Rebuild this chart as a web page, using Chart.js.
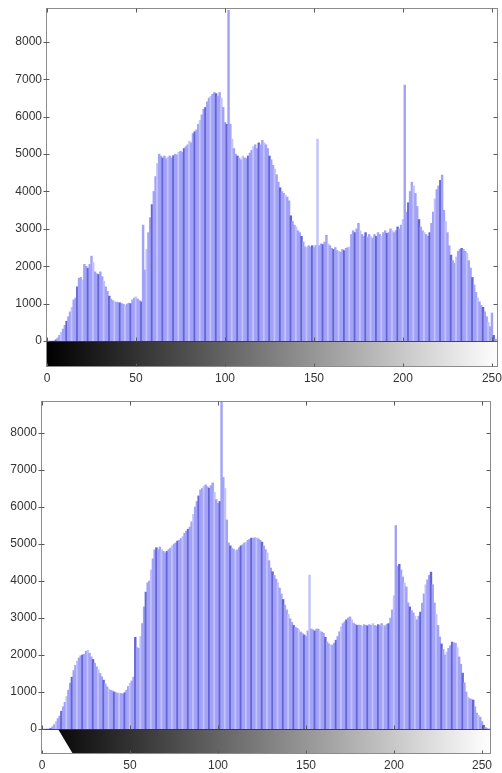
<!DOCTYPE html>
<html>
<head>
<meta charset="utf-8">
<title>Histogram before and after equalization</title>
<script src="https://cdn.jsdelivr.net/npm/chart.js@4.4.1/dist/chart.umd.min.js"></script>
<style>
  html, body { margin: 0; padding: 0; background: #ffffff; }
  #wrap { position: relative; width: 502px; height: 773px; overflow: hidden; }
  canvas { position: absolute; left: 0; }
  #histTop { top: 0; }
  #histBottom { top: 386px; }
</style>
</head>
<body>
<div id="wrap">
  <canvas id="histTop" width="502" height="386"></canvas>
  <canvas id="histBottom" width="502" height="387"></canvas>
</div>
<script>
// Gray levels 0..255
const grayLevels = [];
for (let i = 0; i < 256; i++) grayLevels.push(i);

// Tick labels
const xTickValues = [0, 50, 100, 150, 200, 250];
const yTickValues = [0, 1000, 2000, 3000, 4000, 5000, 6000, 7000, 8000];

// Pixel counts per gray level, original image
const originalCounts = [
  0, 0, 0, 0, 0, 30, 80, 150, 230, 320,
  420, 530, 650, 780, 900, 1100, 1150, 1450, 1680, 1700,
  1630, 2050, 2000, 1950, 2050, 2270, 2100, 1850, 1800, 1780,
  1850, 1720, 1600, 1450, 1330, 1200, 1120, 1080, 1050, 1040,
  1030, 1020, 1000, 980, 950, 990, 1010, 1000, 1100, 1150,
  1180, 1120, 1080, 1050, 3100, 1900, 2450, 2900, 3300, 3650,
  4000, 4400, 4750, 5000, 4950, 4900, 4950, 4880, 4920, 4950,
  4900, 4960, 5000, 4980, 5050, 5080, 5050, 5150, 5200, 5250,
  5350, 5300, 5550, 5600, 5650, 5800, 5900, 6050, 6200, 6250,
  6400, 6500, 6550, 6600, 6650, 6620, 6550, 6650, 6500, 6250,
  5850, 5800, 8850, 5800, 5400, 5150, 5000, 4950, 4900, 4850,
  4950, 4900, 4880, 4950, 5030, 5100, 5200, 5250, 5150, 5300,
  5250, 5370, 5300, 5250, 5150, 4950, 4850, 4700, 4600, 4450,
  4250, 4100, 4000, 3950, 3900, 3850, 3750, 3350, 3200, 3100,
  3050, 2950, 2900, 2800, 2650, 2520, 2500, 2550, 2520, 2550,
  2500, 2560, 5400, 2550, 2600, 2580, 2650, 2830, 2600, 2550,
  2480, 2450, 2500, 2420, 2400, 2380, 2450, 2420, 2480, 2500,
  2520, 2850, 2950, 2900, 3000, 3150, 2950, 2850, 2800, 2900,
  2780, 2850, 2800, 2750, 2850, 2800, 2900, 2850, 2800, 2900,
  2950, 2880, 2900, 3000, 2950, 2900, 2950, 3050, 3000, 3100,
  3250, 6850, 3450, 3700, 4000, 4250, 4150, 3950, 3600, 3250,
  3050, 2950, 2900, 2850, 2800, 2900, 3150, 3450, 3800, 4050,
  4150, 4300, 4440, 3500, 3200, 2900, 2550, 2300, 2150, 2080,
  2250, 2400, 2450, 2480, 2450, 2400, 2350, 2150, 1950, 1700,
  1500, 1300, 1150, 1050, 950, 900, 780, 650, 500, 380,
  750, 150, 50, 0, 0, 0
];

// Pixel counts per gray level, equalized image
const equalizedCounts = [
  0, 0, 0, 0, 0, 20, 60, 120, 200, 280,
  350, 480, 600, 720, 880, 1050, 1240, 1400, 1580, 1720,
  1830, 1920, 1980, 2000, 2020, 2100, 2130, 2050, 1950, 1880,
  1780, 1680, 1600, 1500, 1410, 1320, 1220, 1140, 1080, 1050,
  1030, 1000, 980, 970, 960, 960, 950, 980, 1050, 1150,
  1240, 1300, 1400, 2480, 2200, 2180, 2500, 2850, 3300, 3700,
  3950, 4000, 4300, 4600, 4840, 4900, 4850, 4920, 4850, 4800,
  4760, 4800, 4850, 4890, 4950, 5000, 5030, 5080, 5100, 5150,
  5200, 5290, 5350, 5400, 5460, 5600, 5800, 6000, 6150, 6300,
  6460, 6500, 6560, 6600, 6550, 6510, 6580, 6650, 6400, 6200,
  6100, 6150, 8850, 6800, 6500, 5650, 5030, 4950, 4880, 4850,
  4820, 4840, 4900, 4950, 4980, 5030, 5050, 5100, 5130, 5160,
  5150, 5170, 5160, 5140, 5100, 5050, 4950, 4850, 4760, 4550,
  4350, 4250, 4150, 4050, 3950, 3810, 3650, 3500, 3350, 3220,
  3100, 2980, 2880, 2800, 2750, 2720, 2680, 2620, 2580, 2540,
  2500, 2650, 4160, 2700, 2680, 2650, 2700, 2700, 2650, 2620,
  2590, 2480, 2350, 2300, 2270, 2270, 2320, 2400, 2500, 2630,
  2760, 2850, 2900, 2950, 3000, 3030, 2950, 2860, 2830, 2800,
  2810, 2800, 2780, 2820, 2800, 2790, 2820, 2800, 2850, 2800,
  2780, 2820, 2800, 2850, 2800, 2790, 2830, 2850, 3000, 3220,
  3600, 5500, 4400, 4450, 4300, 4110, 3950, 3840, 3410, 3300,
  3200, 3140, 3050, 2950, 3050, 3160, 3400, 3650, 3900, 4030,
  4150, 4240, 3900, 3410, 3100, 2800, 2490, 2300, 2150, 2000,
  2080, 2180, 2250, 2350, 2330, 2320, 2200, 1950, 1750, 1510,
  1250, 1000, 860, 820, 800, 780, 600, 430, 370, 320,
  200, 100, 40, 20, 0, 0
];

const BAR_MID = 'rgb(162,162,247)';
const BAR_LIGHT = 'rgb(194,194,252)';
const BAR_DARK = 'rgb(100,100,214)';
const FRAME = '#8c8c8c';
const TICK = '#5a5a5a';
const LABEL = '#333333';
const FONT = { family: "'Liberation Sans', Arial, sans-serif", size: 12 };

// Grayscale strip under the histogram plus the axes box and mirrored ticks
const stripAndFrame = {
  id: 'stripAndFrame',
  beforeDatasetsDraw(chart, args, opts) {
    const { ctx, chartArea: a, scales: { x, y } } = chart;
    const y0 = y.getPixelForValue(0);
    const g = ctx.createLinearGradient(x.getPixelForValue(0), 0, x.getPixelForValue(255), 0);
    g.addColorStop(0, '#000000');
    g.addColorStop(1, '#ffffff');
    ctx.save();
    ctx.beginPath();
    ctx.rect(a.left, a.top, a.right - a.left, a.bottom - a.top);
    ctx.clip();
    ctx.fillStyle = g;
    ctx.beginPath();
    ctx.moveTo(x.getPixelForValue(opts.slantTop), y0);
    ctx.lineTo(a.right, y0);
    ctx.lineTo(a.right, a.bottom);
    ctx.lineTo(x.getPixelForValue(opts.slantBottom), a.bottom);
    ctx.closePath();
    ctx.fill();
    ctx.restore();
  },
  afterDraw(chart) {
    const { ctx, chartArea: a, scales: { x, y } } = chart;
    const y0 = Math.round(y.getPixelForValue(0)) + 0.5;
    const L = a.left - 0.5, R = a.right - 0.5, T = a.top + 0.5, B = a.bottom - 0.5;
    ctx.save();
    // baseline of the histogram
    ctx.strokeStyle = 'rgba(40,40,90,0.85)';
    ctx.lineWidth = 1;
    ctx.beginPath();
    ctx.moveTo(L, y0);
    ctx.lineTo(R, y0);
    ctx.stroke();
    // box
    ctx.strokeStyle = FRAME;
    ctx.strokeRect(L, T, R - L, B - T);
    // ticks
    ctx.strokeStyle = TICK;
    ctx.beginPath();
    yTickValues.forEach(v => {
      const py = Math.round(y.getPixelForValue(v)) + 0.5;
      ctx.moveTo(L - 3, py); ctx.lineTo(L + 3, py);
      ctx.moveTo(R - 4, py); ctx.lineTo(R, py);
    });
    xTickValues.forEach(v => {
      const px = Math.round(x.getPixelForValue(v)) + 0.5;
      ctx.moveTo(px, T); ctx.lineTo(px, T + 4);
      ctx.moveTo(px, y0); ctx.lineTo(px, y0 - 4);
      ctx.moveTo(px, B); ctx.lineTo(px, B - 3);
    });
    ctx.stroke();
    ctx.restore();
  }
};

function barColor(c) {
  const k = (c.dataIndex + 1) % 6;
  return k === 0 ? BAR_DARK : (k === 3 ? BAR_LIGHT : BAR_MID);
}

function drawHistogram(canvasId, counts, geo) {
  const points = grayLevels.map((g, i) => ({ x: g, y: counts[i] }));
  return new Chart(document.getElementById(canvasId), {
    type: 'bar',
    data: {
      datasets: [{
        data: points,
        backgroundColor: barColor,
        borderWidth: 0,
        barPercentage: 1.0,
        categoryPercentage: 1.0
      }]
    },
    options: {
      responsive: false,
      animation: false,
      events: [],
      layout: { padding: { top: geo.padTop, right: geo.padRight, left: 0, bottom: 0 } },
      plugins: {
        legend: { display: false },
        tooltip: { enabled: false },
        stripAndFrame: { slantTop: geo.slantTop, slantBottom: geo.slantBottom }
      },
      scales: {
        x: {
          type: 'linear',
          offset: false,
          min: 0,
          max: geo.xMax,
          grid: { display: false, drawTicks: false },
          border: { display: false },
          afterBuildTicks: s => { s.ticks = xTickValues.map(v => ({ value: v })); },
          afterFit: s => {
            s.height = geo.xAxisHeight;
            s.paddingLeft = 0; s.paddingRight = 0;
          },
          ticks: { autoSkip: false, maxRotation: 0, padding: 4, color: LABEL, font: FONT,
                   callback: v => String(v) }
        },
        y: {
          min: geo.yMin,
          max: geo.yMax,
          grid: { display: false, drawTicks: false },
          border: { display: false },
          afterBuildTicks: s => { s.ticks = yTickValues.map(v => ({ value: v })); },
          afterFit: s => {
            s.width = geo.yAxisWidth;
            s.paddingTop = 0; s.paddingBottom = 0;
          },
          ticks: { padding: 5, color: LABEL, font: FONT, callback: v => String(v) }
        }
      }
    },
    plugins: [stripAndFrame]
  });
}

drawHistogram('histTop', originalCounts, {
  padTop: 8, padRight: 4, yAxisWidth: 47, xAxisHeight: 19,
  xMax: 253.4, yMin: -696, yMax: 8910, slantTop: 0, slantBottom: 0
});

drawHistogram('histBottom', equalizedCounts, {
  padTop: 15, padRight: 11, yAxisWidth: 42, xAxisHeight: 19,
  xMax: 255.1, yMin: -676, yMax: 8865, slantTop: 9.1, slantBottom: 17.6
});
</script>
</body>
</html>
